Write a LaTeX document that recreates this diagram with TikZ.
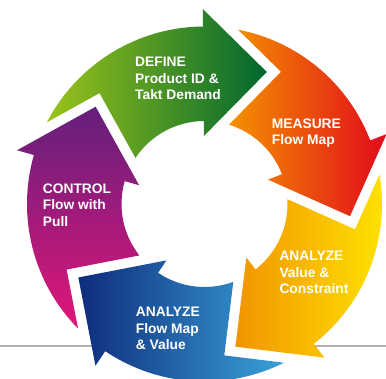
\documentclass[tikz,border=0pt]{standalone}
\usepackage{fontspec}
\setmainfont{Liberation Sans}

% One curved stage arrow of the cycle.
% #1: head angle of the preceding stage (its tip shapes this tail notch)
% #2: head angle of this stage, #3: fill/shading options
\newcommand{\stagearrow}[3]{%
  \path[#3]
    ({#1-11.42}:177.5)
      arc[start angle={#1-11.42}, end angle={#2}, radius=177.5pt]
    -- (#2:195) -- ({#2-25.78}:146) -- (#2:68) -- (#2:83)
      arc[start angle={#2}, end angle={#1-17.69}, radius=83pt]
    -- ({#1-30.56}:152.7) -- cycle;}

\begin{document}
\begin{tikzpicture}[x=1pt,y=1pt,
  stagetext/.style={anchor=north west, inner sep=0pt, align=left,
    text=white, font=\bfseries\fontsize{13.8}{16.7}\selectfont},
  baserule/.style={draw=black!30, line width=2pt}]
\useasboundingbox (0,0) rectangle (386,379);

% thin grey rule running behind the lower part of the cycle
\draw[baserule] (0,33) -- (100,33);
\draw[baserule] (300,33) -- (386,33);

\begin{scope}[shift={(204.5,175)}]
  \stagearrow{164}{90.5}{left color={rgb,255:red,155;green,195;blue,26}, right color={rgb,255:red,0;green,103;blue,47}}
  \stagearrow{90.5}{21}{left color={rgb,255:red,243;green,146;blue,0}, right color={rgb,255:red,226;green,10;blue,27}}
  \stagearrow{21}{-52}{left color={rgb,255:red,242;green,148;blue,0}, right color={rgb,255:red,255;green,229;blue,0}}
  \stagearrow{-52}{-124}{left color={rgb,255:red,14;green,44;blue,125}, right color={rgb,255:red,58;green,162;blue,216}}
  \stagearrow{-124}{-196}{top color={rgb,255:red,99;green,32;blue,123}, bottom color={rgb,255:red,225;green,21;blue,122}}
\end{scope}

\node[stagetext] (define)  at (135,322.3)   {DEFINE\\Product ID \&\\Takt Demand};
\node[stagetext] (measure) at (271.7,260.7) {MEASURE\\Flow Map};
\node[stagetext] (valcon)  at (279.3,128.3) {ANALYZE\\Value \&\\Constraint};
\node[stagetext] (flowval) at (135.7,72.3)  {ANALYZE\\Flow Map\\\& Value};
\node[stagetext] (control) at (42.7,195.7)  {CONTROL\\Flow with\\Pull};
\end{tikzpicture}
\end{document}
